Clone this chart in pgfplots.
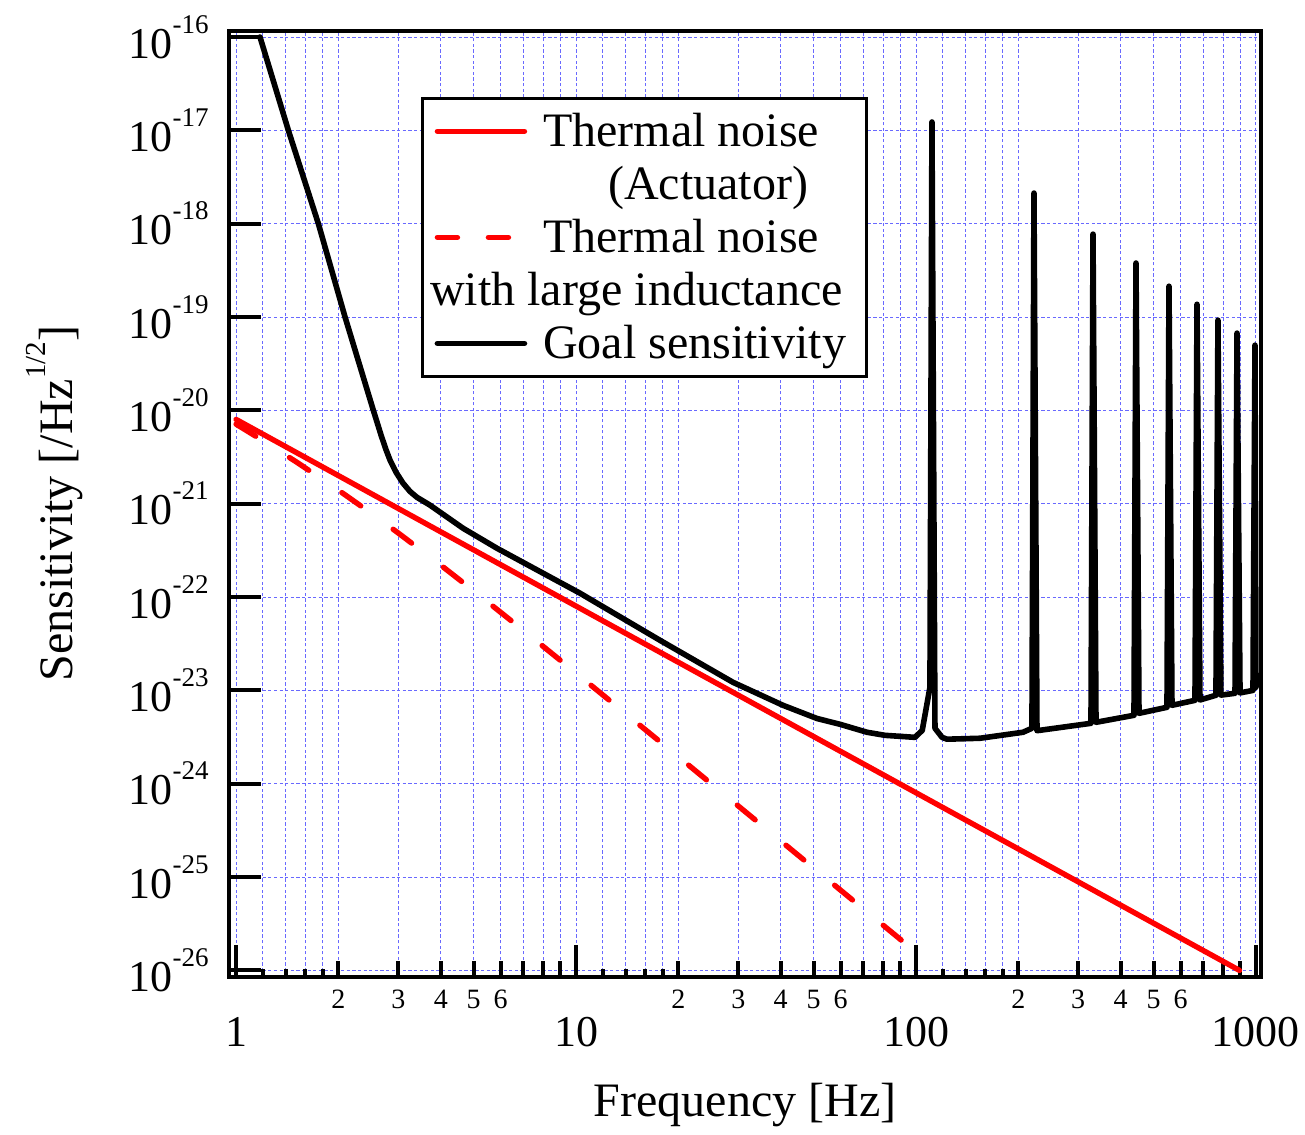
\documentclass[border=0pt]{standalone}
\usepackage{fontspec}
\setmainfont{Liberation Serif}
\usepackage{pgfplots}
\pgfplotsset{compat=1.18}

\definecolor{gridblue}{RGB}{105,105,255}
% 10^{-n} in the text font
\newcommand{\ex}[1]{10\raisebox{12.5pt}{\fontsize{13.5}{14}\selectfont -#1}}
\newcommand{\ls}{\rule{0pt}{18pt}}

\begin{document}
\begin{tikzpicture}
\begin{loglogaxis}[
    scale only axis, width=516pt, height=473pt,
    xmin=0.9537, xmax=1038, ymin=8.52e-27, ymax=1.174e-16,
    tick pos=left, tick align=inside,
    axis line style={line width=2pt},
    tick style={black, line width=2pt},
    major tick length=16pt, minor tick length=4pt,
    xtick={1,10,100,1000}, xticklabels={1,10,100,1000},
    minor xtick={1.2,1.4,1.6,1.8,12,14,16,18,120,140,160,180},
    extra x ticks={2,3,4,5,6,7,8,9,20,30,40,50,60,70,80,90,200,300,400,500,600,700,800,900},
    extra x tick labels={2,3,4,5,6,,,,2,3,4,5,6,,,,2,3,4,5,6,,,},
    extra x tick style={grid=major, major tick length=8pt, xticklabel shift=6.5pt,
        xticklabel style={font=\fontsize{14}{15}\selectfont}},
    xticklabel style={font=\fontsize{22}{24}\selectfont, inner sep=0pt},
    xticklabel shift=20pt,
    ytick={1e-26,1e-25,1e-24,1e-23,1e-22,1e-21,1e-20,1e-19,1e-18,1e-17,1e-16},
    yticklabels={\ex{26},\ex{25},\ex{24},\ex{23},\ex{22},\ex{21},\ex{20},\ex{19},\ex{18},\ex{17},\ex{16}},
    yminorticks=false,
    yticklabel style={font=\fontsize{22}{24}\selectfont, inner sep=0pt},
    yticklabel shift=10pt,
    xmajorgrids=true, xminorgrids=true, ymajorgrids=true,
    major grid style={gridblue, line width=0.5pt, dash pattern=on 1.6pt off 1.2pt},
    minor grid style={gridblue, line width=0.5pt, dash pattern=on 1.6pt off 1.2pt},
    xlabel={Frequency [Hz]},
    xlabel style={font=\fontsize{24}{26}\selectfont, at={(axis description cs:0.5,-0.135)}, anchor=center},
    ylabel={Sensitivity [/Hz\raisebox{13.5pt}{\fontsize{14.5}{15}\selectfont 1/2}]},
    ylabel style={font=\fontsize{24}{26}\selectfont, at={(axis description cs:-0.169,0.5)}, anchor=center},
    legend style={at={(rel axis cs:0.186,0.930)}, anchor=north west, draw=black, line width=1.5pt,
        fill=white, inner xsep=6pt, inner ysep=6pt, row sep=5.5pt, column sep=8pt,
        font=\fontsize{24}{26}\selectfont, nodes={inner sep=0pt, text depth=3pt}},
    legend cell align=left,
    legend image code/.code={\draw[#1] (0pt,0pt) -- (43.5pt,0pt);},
]
% thermal noise (actuator)
\addplot[forget plot, red, line width=2.7pt, line cap=round] coordinates {
    (1,8e-21) (894.4,1e-26)};
% thermal noise with large inductance
\addplot[forget plot, red, line width=2.7pt, line cap=round, dash pattern=on 11.5pt off 20pt] coordinates {
    (1,7.12e-21) (1.2,4.735e-21) (1.5,2.821e-21) (2,1.398e-21) (2.5,7.885e-22)
    (3,4.853e-22) (4,2.196e-22) (5,1.165e-22) (7,4.392e-23) (10,1.535e-23)
    (20,1.946e-24) (30,5.78e-25) (50,1.25e-25) (70,4.558e-26) (95.3,1.807e-26)};
% goal sensitivity
\addplot[forget plot, black, line width=2.8pt, line join=round, line cap=round] coordinates {
    (1.176,1e-16) (1.425,1e-17) (1.746,1e-18) (2.092,1e-19) (2.534,1e-20)
    (2.671,5.4e-21) (2.76,3.8e-21) (2.838,2.92e-21) (2.96,2.15e-21) (3.098,1.66e-21)
    (3.25,1.35e-21) (3.406,1.17e-21)
    (3.721,9.64e-22) (4.652,5.46e-22) (5.856,3.33e-22) (10.27,1.10e-22)
    (17.66,3.44e-23) (28.96,1.22e-23) (40.63,6.92e-24) (51.14,5.0e-24)
    (59.8,4.33e-24) (71.76,3.56e-24) (81.1,3.3e-24) (89.7,3.22e-24)
    (99.3,3.14e-24) (104.3,3.73e-24) (109.9,1.08e-23) (111.4,1.23e-17)
    (113.7,3.93e-24) (119.3,3.14e-24) (123.4,3.0e-24) (154.3,3.07e-24)
    (206.4,3.56e-24) (219.3,3.93e-24) (222.3,2.13e-18) (226.9,3.7e-24)
    (327.1,4.44e-24) (331.6,7.74e-19) (338.4,4.55e-24)
    (437.7,5.41e-24) (443.7,3.79e-19) (452.8,5.68e-24)
    (547.3,6.59e-24) (554.8,2.14e-19) (566.2,6.92e-24)
    (661.6,7.83e-24) (670.7,1.37e-19) (684.4,7.9e-24)
    (762.6,8.87e-24) (773.0,9.26e-20) (788.9,8.9e-24)
    (867.6,9.31e-24) (879.5,6.73e-20) (897.6,9.4e-24)
    (979.9,1.0e-23) (993.3,5.0e-20) (1000,1.08e-23)};

\addlegendimage{red, line width=2.7pt, line cap=round}
\addlegendentry{\ls Thermal noise}
\addlegendimage{empty legend}
\addlegendentry{\ls\hspace*{32.5pt}(Actuator)}
\addlegendimage{red, line width=2.7pt, line cap=round, dash pattern=on 10pt off 15.5pt}
\addlegendentry{\ls Thermal noise}
\addlegendimage{empty legend}
\addlegendentry{\ls\hspace*{-56.5pt}with large inductance}
\addlegendimage{black, line width=2.8pt, line cap=round}
\addlegendentry{\ls Goal sensitivity\hspace*{4pt}}
\end{loglogaxis}
\pgfresetboundingbox
\path ([shift={(-114.5pt,-79pt)}]current axis.south west) rectangle ([shift={(21.75pt,15.25pt)}]current axis.north east);
\end{tikzpicture}
\end{document}
